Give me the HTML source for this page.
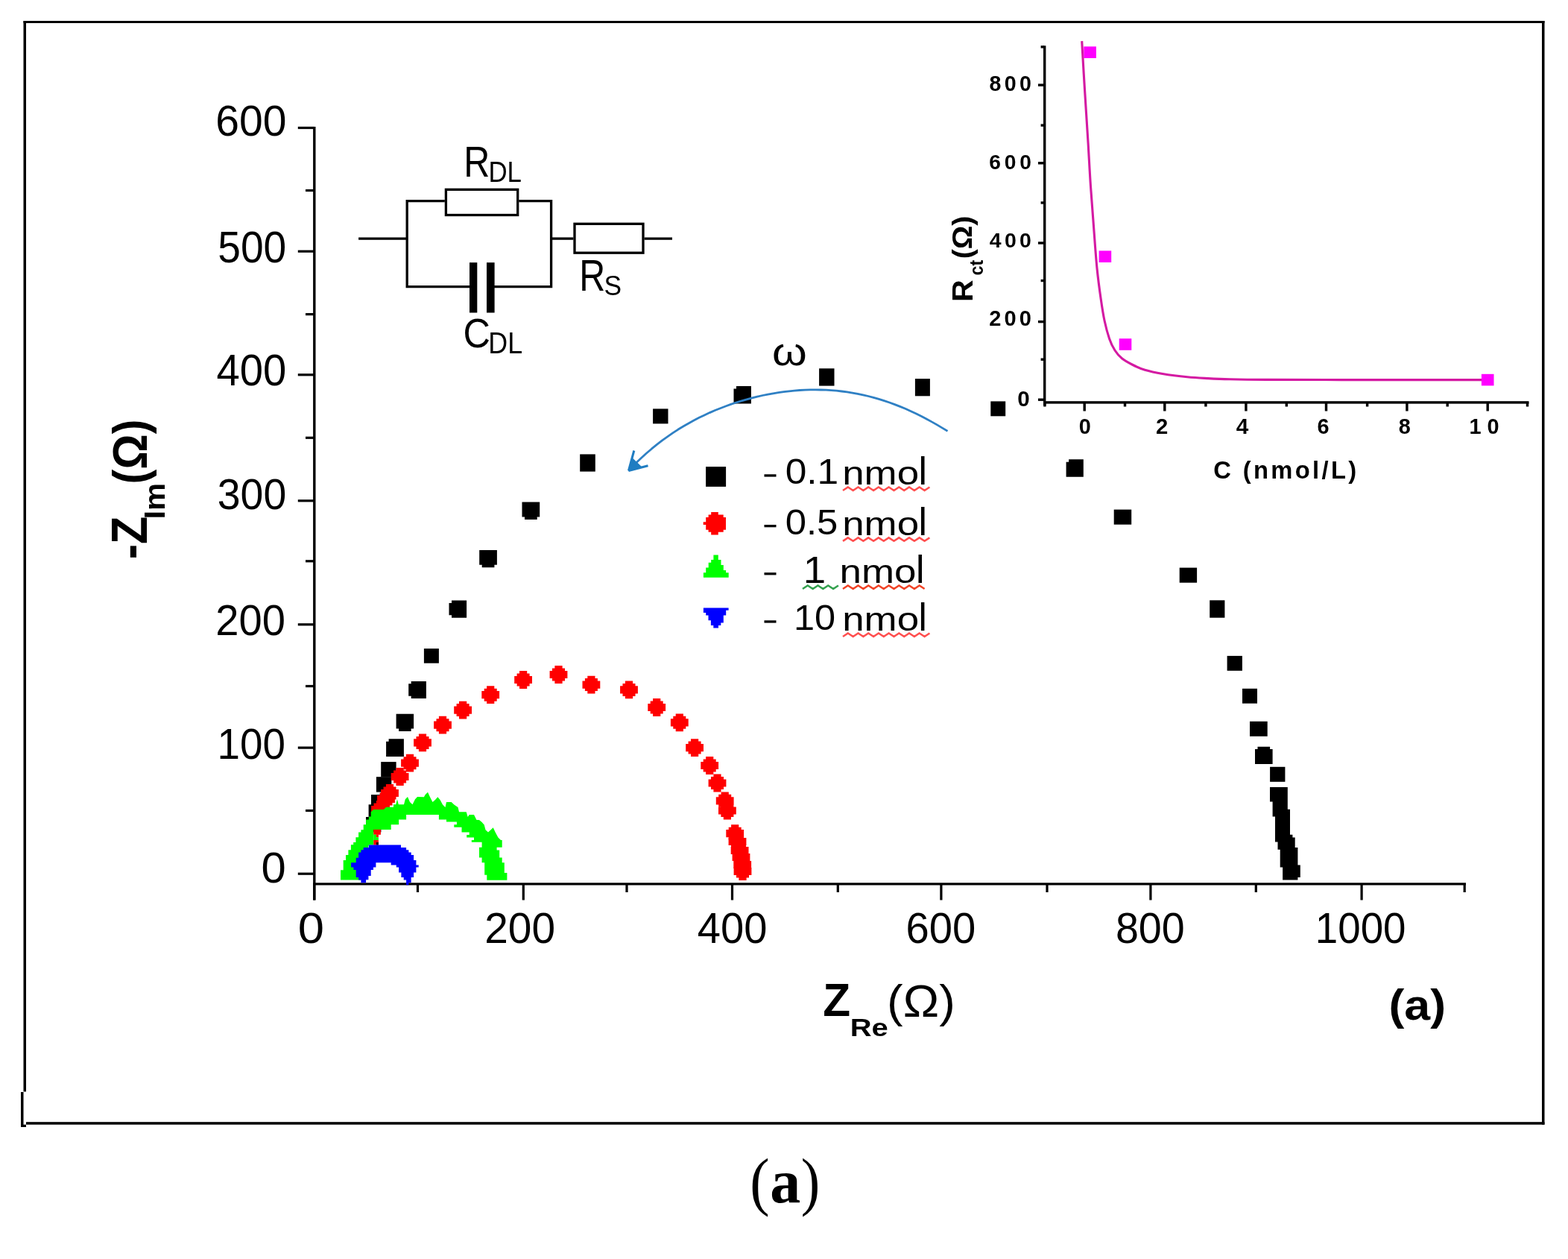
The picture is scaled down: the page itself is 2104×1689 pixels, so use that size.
<!DOCTYPE html>
<html lang="en"><head><meta charset="utf-8"><title>Nyquist plot (a)</title>
<style>
html,body{margin:0;padding:0;background:#fff;}
body{width:2104px;height:1689px;overflow:hidden;}
svg{display:block;}
</style></head><body>
<svg width="2104" height="1689" viewBox="0 0 2104 1689">
<rect x="0" y="0" width="2104" height="1689" fill="#fff"/>
<g id="frame">
<rect x="31.50" y="28.00" width="3.50" height="1436.50" fill="#000"/>
<rect x="31.50" y="28.00" width="2041.00" height="3.00" fill="#000"/>
<rect x="2069.00" y="28.00" width="3.50" height="1480.70" fill="#000"/>
<rect x="35.00" y="1505.20" width="2037.50" height="3.50" fill="#000"/>
<rect x="28.00" y="1465.00" width="3.50" height="47.00" fill="#000"/>
<rect x="28.00" y="1508.70" width="7.00" height="3.30" fill="#000"/>
</g>
<g id="axes">
<rect x="420.10" y="170.00" width="3.40" height="1037.50" fill="#000"/>
<rect x="420.10" y="1184.30" width="1546.90" height="3.20" fill="#000"/>
<rect x="399.80" y="169.90" width="21.90" height="3.20" fill="#000"/>
<rect x="410.00" y="253.90" width="11.70" height="3.20" fill="#000"/>
<rect x="399.80" y="335.60" width="21.90" height="3.20" fill="#000"/>
<rect x="410.00" y="420.00" width="11.70" height="3.20" fill="#000"/>
<rect x="399.80" y="501.20" width="21.90" height="3.20" fill="#000"/>
<rect x="410.00" y="585.70" width="11.70" height="3.20" fill="#000"/>
<rect x="399.80" y="670.20" width="21.90" height="3.20" fill="#000"/>
<rect x="410.00" y="751.20" width="11.70" height="3.20" fill="#000"/>
<rect x="399.80" y="836.20" width="21.90" height="3.20" fill="#000"/>
<rect x="410.00" y="918.90" width="11.70" height="3.20" fill="#000"/>
<rect x="399.80" y="1001.50" width="21.90" height="3.20" fill="#000"/>
<rect x="410.00" y="1085.90" width="11.70" height="3.20" fill="#000"/>
<rect x="399.80" y="1170.60" width="21.90" height="3.20" fill="#000"/>
<rect x="420.10" y="1185.00" width="3.20" height="22.50" fill="#000"/>
<rect x="558.90" y="1185.00" width="3.20" height="12.00" fill="#000"/>
<rect x="700.70" y="1185.00" width="3.20" height="22.50" fill="#000"/>
<rect x="839.40" y="1185.00" width="3.20" height="12.00" fill="#000"/>
<rect x="980.90" y="1185.00" width="3.20" height="22.50" fill="#000"/>
<rect x="1122.70" y="1185.00" width="3.20" height="12.00" fill="#000"/>
<rect x="1261.30" y="1185.00" width="3.20" height="22.50" fill="#000"/>
<rect x="1403.40" y="1185.00" width="3.20" height="12.00" fill="#000"/>
<rect x="1542.30" y="1185.00" width="3.20" height="22.50" fill="#000"/>
<rect x="1683.70" y="1185.00" width="3.20" height="12.00" fill="#000"/>
<rect x="1825.50" y="1185.00" width="3.20" height="22.50" fill="#000"/>
<rect x="1963.60" y="1185.00" width="3.20" height="12.00" fill="#000"/>
</g>
<g id="ticklabels">
<text transform="translate(289.35,182.44) scale(1.0108,1)" font-family='"Liberation Sans", sans-serif' font-size="56.48" fill="#000">600</text>
<text transform="translate(292.30,351.52) scale(0.9449,1)" font-family='"Liberation Sans", sans-serif' font-size="58.31" fill="#000">500</text>
<text transform="translate(290.48,517.32) scale(0.9617,1)" font-family='"Liberation Sans", sans-serif' font-size="58.45" fill="#000">400</text>
<text transform="translate(291.78,683.13) scale(0.9642,1)" font-family='"Liberation Sans", sans-serif' font-size="57.46" fill="#000">300</text>
<text transform="translate(289.29,852.02) scale(0.9685,1)" font-family='"Liberation Sans", sans-serif' font-size="58.03" fill="#000">200</text>
<text transform="translate(291.59,1017.83) scale(0.9535,1)" font-family='"Liberation Sans", sans-serif' font-size="57.46" fill="#000">100</text>
<text transform="translate(350.41,1183.53) scale(1.0430,1)" font-family='"Liberation Sans", sans-serif' font-size="57.32" fill="#000">0</text>
<text transform="translate(399.67,1264.82) scale(1.0941,1)" font-family='"Liberation Sans", sans-serif' font-size="57.89" fill="#000">0</text>
<text transform="translate(650.26,1264.82) scale(0.9818,1)" font-family='"Liberation Sans", sans-serif' font-size="57.89" fill="#000">200</text>
<text transform="translate(935.78,1264.82) scale(0.9700,1)" font-family='"Liberation Sans", sans-serif' font-size="57.89" fill="#000">400</text>
<text transform="translate(1215.49,1264.82) scale(0.9709,1)" font-family='"Liberation Sans", sans-serif' font-size="57.89" fill="#000">600</text>
<text transform="translate(1496.90,1264.82) scale(0.9613,1)" font-family='"Liberation Sans", sans-serif' font-size="57.89" fill="#000">800</text>
<text transform="translate(1764.80,1264.82) scale(0.9450,1)" font-family='"Liberation Sans", sans-serif' font-size="57.89" fill="#000">1000</text>
</g>
<g id="titles">
<text transform="translate(196.80,750.35) rotate(-90) scale(0.9033,1)" font-family='"Liberation Sans", sans-serif' font-weight="bold" font-size="67.68" fill="#000">-Z</text>
<text transform="translate(220.70,696.52) rotate(-90) scale(1.0848,1)" font-family='"Liberation Sans", sans-serif' font-weight="bold" font-size="38.55" fill="#000">Im</text>
<text transform="translate(196.87,649.46) rotate(-90) scale(0.9118,1)" font-family='"Liberation Sans", sans-serif' font-weight="bold" font-size="64.92" fill="#000">(Ω)</text>
<text transform="translate(1104.29,1363.30) scale(0.9466,1)" font-family='"Liberation Sans", sans-serif' font-weight="bold" font-size="63.77" fill="#000">Z</text>
<text transform="translate(1140.70,1390.06) scale(1.1915,1)" font-family='"Liberation Sans", sans-serif' font-weight="bold" font-size="33.57" fill="#000">Re</text>
<text transform="translate(1190.11,1363.96) scale(1.0520,1)" font-family='"Liberation Sans", sans-serif' font-size="61.60" fill="#000">(Ω)</text>
<text transform="translate(1863.47,1368.03) scale(1.0811,1)" font-family='"Liberation Sans", sans-serif' font-weight="bold" font-size="57.97" fill="#000">(a)</text>
<text transform="translate(1006.34,1613.55) scale(0.9230,1)" font-family='"Liberation Serif", serif' font-size="85.82" fill="#000">(</text>
<text transform="translate(1033.34,1613.15) scale(0.9597,1)" font-family='"Liberation Serif", serif' font-weight="bold" font-size="85.42" fill="#000">a</text>
<text transform="translate(1074.70,1613.55) scale(0.8918,1)" font-family='"Liberation Serif", serif' font-size="85.82" fill="#000">)</text>
</g>
<g id="circuit" fill="none" stroke="#000" stroke-width="3.3">
<polyline points="481.1,320.1 546.2,320.1"/>
<polyline points="596.8,269.6 546.2,269.6 546.2,384.6 631,384.6"/>
<polyline points="696.3,269.6 739.6,269.6 739.6,384.6 663,384.6"/>
<polyline points="739.6,320.1 769.4,320.1"/>
<polyline points="864.6,320.1 902,320.1"/>
<rect x="598.4" y="254.3" width="96.3" height="34.2"/>
<rect x="771" y="300.3" width="92" height="38.9"/>
</g>
<rect x="630.00" y="352.20" width="10.30" height="67.30" fill="#000"/>
<rect x="653.00" y="352.20" width="10.60" height="67.30" fill="#000"/>
<text transform="translate(622.21,237.30) scale(0.8337,1)" font-family='"Liberation Sans", sans-serif' font-size="58.26" fill="#000">R</text>
<text transform="translate(655.41,244.20) scale(0.8973,1)" font-family='"Liberation Sans", sans-serif' font-size="38.84" fill="#000">DL</text>
<text transform="translate(777.33,389.60) scale(0.8226,1)" font-family='"Liberation Sans", sans-serif' font-size="58.84" fill="#000">R</text>
<text transform="translate(810.61,395.62) scale(0.9388,1)" font-family='"Liberation Sans", sans-serif' font-size="37.61" fill="#000">S</text>
<text transform="translate(621.48,466.04) scale(0.9035,1)" font-family='"Liberation Sans", sans-serif' font-size="55.77" fill="#000">C</text>
<text transform="translate(655.34,474.00) scale(0.8916,1)" font-family='"Liberation Sans", sans-serif' font-size="40.14" fill="#000">DL</text>
<g id="black">
<polygon points="518.1,994.7 521.6,994.7 521.6,991.3 541.9,991.3 541.9,1014.9 518.1,1014.9" fill="#000"/>
<polygon points="531.6,957.8 555.1,957.8 555.1,977.6 551.6,977.6 551.6,981.0 535.1,981.0 535.1,977.6 531.6,977.6" fill="#000"/>
<polygon points="548.2,917.3 551.7,917.3 551.7,913.9 571.9,913.9 571.9,937.1 551.7,937.1 551.7,933.7 548.2,933.7" fill="#000"/>
<rect x="568.90" y="870.10" width="20.00" height="19.60" fill="#000"/>
<polygon points="602.5,808.9 606.0,808.9 606.0,805.5 626.1,805.5 626.1,828.7 606.0,828.7 606.0,825.3 602.5,825.3" fill="#000"/>
<polygon points="643.2,738.0 666.9,738.0 666.9,757.8 663.4,757.8 663.4,761.2 646.7,761.2 646.7,757.8 643.2,757.8" fill="#000"/>
<polygon points="700.5,673.6 724.2,673.6 724.2,693.6 720.7,693.6 720.7,697.0 704.0,697.0 704.0,693.6 700.5,693.6" fill="#000"/>
<rect x="778.20" y="609.40" width="20.60" height="23.20" fill="#000"/>
<rect x="876.10" y="548.40" width="20.40" height="20.00" fill="#000"/>
<polygon points="984.5,521.4 988.0,521.4 988.0,518.0 1007.9,518.0 1007.9,541.4 984.5,541.4" fill="#000"/>
<rect x="1099.10" y="494.30" width="20.40" height="23.30" fill="#000"/>
<rect x="1227.90" y="508.10" width="20.00" height="23.20" fill="#000"/>
<rect x="1329.30" y="538.40" width="19.90" height="19.90" fill="#000"/>
<polygon points="1430.6,619.7 1434.1,619.7 1434.1,616.3 1453.8,616.3 1453.8,639.7 1430.6,639.7" fill="#000"/>
<rect x="1494.70" y="683.60" width="23.50" height="20.10" fill="#000"/>
<rect x="1582.70" y="761.60" width="23.40" height="20.10" fill="#000"/>
<rect x="1623.20" y="805.30" width="20.20" height="23.40" fill="#000"/>
<rect x="1646.60" y="879.90" width="20.30" height="19.90" fill="#000"/>
<rect x="1667.00" y="923.80" width="20.00" height="19.90" fill="#000"/>
<rect x="1677.00" y="967.80" width="23.70" height="20.00" fill="#000"/>
<polygon points="1684.0,1005.1 1687.5,1005.1 1687.5,1001.7 1704.1,1001.7 1704.1,1005.1 1707.6,1005.1 1707.6,1025.1 1684.0,1025.1" fill="#000"/>
<rect x="1704.10" y="1028.80" width="20.30" height="20.00" fill="#000"/>
<rect x="511.20" y="1022.10" width="20.40" height="20.40" fill="#000"/>
<rect x="504.90" y="1042.20" width="20.40" height="20.40" fill="#000"/>
<rect x="498.00" y="1066.10" width="20.40" height="20.40" fill="#000"/>
<rect x="494.60" y="1079.30" width="20.40" height="20.40" fill="#000"/>
<rect x="491.00" y="1096.00" width="20.40" height="20.40" fill="#000"/>
<polygon points="1704.0,1055.9 1704.0,1075.4 1707.6,1075.4 1707.6,1095.4 1711.0,1095.4 1711.0,1129.5 1714.5,1129.5 1714.5,1139.8 1717.7,1139.8 1717.7,1163.5 1721.1,1163.5 1721.1,1180.5 1741.4,1180.5 1741.4,1177.0 1744.8,1177.0 1744.8,1160.5 1741.4,1160.5 1741.4,1136.9 1737.7,1136.9 1737.7,1123.5 1734.4,1123.5 1734.4,1119.8 1731.0,1119.8 1731.0,1085.8 1727.8,1085.8 1727.8,1055.9" fill="#000"/>
</g>
<g id="red" fill="#ff0000">
<polygon points="561.9,984.5 572.1,984.5 572.1,987.9 575.5,987.9 575.5,991.3 578.9,991.3 578.9,1001.5 575.5,1001.5 575.5,1004.9 572.1,1004.9 572.1,1008.3 561.9,1008.3 561.9,1004.9 558.5,1004.9 558.5,1001.5 555.1,1001.5 555.1,991.3 558.5,991.3 558.5,987.9 561.9,987.9"/>
<polygon points="588.9,960.8 599.1,960.8 599.1,964.2 602.5,964.2 602.5,967.6 605.9,967.6 605.9,977.8 602.5,977.8 602.5,981.2 599.1,981.2 599.1,984.6 588.9,984.6 588.9,981.2 585.5,981.2 585.5,977.8 582.1,977.8 582.1,967.6 585.5,967.6 585.5,964.2 588.9,964.2"/>
<polygon points="616.0,940.7 626.2,940.7 626.2,944.1 629.6,944.1 629.6,947.5 633.0,947.5 633.0,957.7 629.6,957.7 629.6,961.1 626.2,961.1 626.2,964.5 616.0,964.5 616.0,961.1 612.6,961.1 612.6,957.7 609.2,957.7 609.2,947.5 612.6,947.5 612.6,944.1 616.0,944.1"/>
<polygon points="653.1,920.3 663.3,920.3 663.3,923.7 666.7,923.7 666.7,927.1 670.1,927.1 670.1,937.3 666.7,937.3 666.7,940.7 663.3,940.7 663.3,944.1 653.1,944.1 653.1,940.7 649.7,940.7 649.7,937.3 646.3,937.3 646.3,927.1 649.7,927.1 649.7,923.7 653.1,923.7"/>
<polygon points="697.0,900.1 707.2,900.1 707.2,903.5 710.6,903.5 710.6,906.9 714.0,906.9 714.0,917.1 710.6,917.1 710.6,920.5 707.2,920.5 707.2,923.9 697.0,923.9 697.0,920.5 693.6,920.5 693.6,917.1 690.2,917.1 690.2,906.9 693.6,906.9 693.6,903.5 697.0,903.5"/>
<polygon points="744.4,893.1 754.6,893.1 754.6,896.5 758.0,896.5 758.0,899.9 761.4,899.9 761.4,910.1 758.0,910.1 758.0,913.5 754.6,913.5 754.6,916.9 744.4,916.9 744.4,913.5 741.0,913.5 741.0,910.1 737.6,910.1 737.6,899.9 741.0,899.9 741.0,896.5 744.4,896.5"/>
<polygon points="788.3,906.7 798.5,906.7 798.5,910.1 801.9,910.1 801.9,913.5 805.3,913.5 805.3,923.7 801.9,923.7 801.9,927.1 798.5,927.1 798.5,930.5 788.3,930.5 788.3,927.1 784.9,927.1 784.9,923.7 781.5,923.7 781.5,913.5 784.9,913.5 784.9,910.1 788.3,910.1"/>
<polygon points="838.9,913.5 849.1,913.5 849.1,916.9 852.5,916.9 852.5,920.3 855.9,920.3 855.9,930.5 852.5,930.5 852.5,933.9 849.1,933.9 849.1,937.3 838.9,937.3 838.9,933.9 835.5,933.9 835.5,930.5 832.1,930.5 832.1,920.3 835.5,920.3 835.5,916.9 838.9,916.9"/>
<polygon points="876.1,937.1 886.3,937.1 886.3,940.5 889.7,940.5 889.7,943.9 893.1,943.9 893.1,954.1 889.7,954.1 889.7,957.5 886.3,957.5 886.3,960.9 876.1,960.9 876.1,957.5 872.7,957.5 872.7,954.1 869.3,954.1 869.3,943.9 872.7,943.9 872.7,940.5 876.1,940.5"/>
<polygon points="906.7,957.4 916.9,957.4 916.9,960.8 920.3,960.8 920.3,964.2 923.7,964.2 923.7,974.4 920.3,974.4 920.3,977.8 916.9,977.8 916.9,981.2 906.7,981.2 906.7,977.8 903.3,977.8 903.3,974.4 899.9,974.4 899.9,964.2 903.3,964.2 903.3,960.8 906.7,960.8"/>
<polygon points="927.0,991.2 937.2,991.2 937.2,994.6 940.6,994.6 940.6,998.0 944.0,998.0 944.0,1008.2 940.6,1008.2 940.6,1011.6 937.2,1011.6 937.2,1015.0 927.0,1015.0 927.0,1011.6 923.6,1011.6 923.6,1008.2 920.2,1008.2 920.2,998.0 923.6,998.0 923.6,994.6 927.0,994.6"/>
<polygon points="947.1,1015.1 957.3,1015.1 957.3,1018.5 960.7,1018.5 960.7,1021.9 964.1,1021.9 964.1,1032.1 960.7,1032.1 960.7,1035.5 957.3,1035.5 957.3,1038.9 947.1,1038.9 947.1,1035.5 943.7,1035.5 943.7,1032.1 940.3,1032.1 940.3,1021.9 943.7,1021.9 943.7,1018.5 947.1,1018.5"/>
<polygon points="957.4,1038.6 967.6,1038.6 967.6,1042.0 971.0,1042.0 971.0,1045.4 974.4,1045.4 974.4,1055.6 971.0,1055.6 971.0,1059.0 967.6,1059.0 967.6,1062.4 957.4,1062.4 957.4,1059.0 954.0,1059.0 954.0,1055.6 950.6,1055.6 950.6,1045.4 954.0,1045.4 954.0,1042.0 957.4,1042.0"/>
<polygon points="967.6,1062.4 977.8,1062.4 977.8,1065.8 981.2,1065.8 981.2,1069.2 984.6,1069.2 984.6,1079.4 981.2,1079.4 981.2,1082.8 977.8,1082.8 977.8,1086.2 967.6,1086.2 967.6,1082.8 964.2,1082.8 964.2,1079.4 960.8,1079.4 960.8,1069.2 964.2,1069.2 964.2,1065.8 967.6,1065.8"/>
<polygon points="970.8,1075.6 981.0,1075.6 981.0,1079.0 984.4,1079.0 984.4,1082.4 987.8,1082.4 987.8,1092.6 984.4,1092.6 984.4,1096.0 981.0,1096.0 981.0,1099.4 970.8,1099.4 970.8,1096.0 967.4,1096.0 967.4,1092.6 964.0,1092.6 964.0,1082.4 967.4,1082.4 967.4,1079.0 970.8,1079.0"/>
<polygon points="981.1,1106.3 991.3,1106.3 991.3,1109.7 994.7,1109.7 994.7,1113.1 998.1,1113.1 998.1,1123.3 994.7,1123.3 994.7,1126.7 991.3,1126.7 991.3,1130.1 981.1,1130.1 981.1,1126.7 977.7,1126.7 977.7,1123.3 974.3,1123.3 974.3,1113.1 977.7,1113.1 977.7,1109.7 981.1,1109.7"/>
<polygon points="984.4,1117.1 994.6,1117.1 994.6,1120.5 998.0,1120.5 998.0,1123.9 1001.4,1123.9 1001.4,1134.1 998.0,1134.1 998.0,1137.5 994.6,1137.5 994.6,1140.9 984.4,1140.9 984.4,1137.5 981.0,1137.5 981.0,1134.1 977.6,1134.1 977.6,1123.9 981.0,1123.9 981.0,1120.5 984.4,1120.5"/>
<polygon points="987.5,1129.1 997.7,1129.1 997.7,1132.5 1001.1,1132.5 1001.1,1135.9 1004.5,1135.9 1004.5,1146.1 1001.1,1146.1 1001.1,1149.5 997.7,1149.5 997.7,1152.9 987.5,1152.9 987.5,1149.5 984.1,1149.5 984.1,1146.1 980.7,1146.1 980.7,1135.9 984.1,1135.9 984.1,1132.5 987.5,1132.5"/>
<polygon points="989.4,1138.1 999.6,1138.1 999.6,1141.5 1003.0,1141.5 1003.0,1144.9 1006.4,1144.9 1006.4,1155.1 1003.0,1155.1 1003.0,1158.5 999.6,1158.5 999.6,1161.9 989.4,1161.9 989.4,1158.5 986.0,1158.5 986.0,1155.1 982.6,1155.1 982.6,1144.9 986.0,1144.9 986.0,1141.5 989.4,1141.5"/>
<polygon points="991.1,1148.1 1001.3,1148.1 1001.3,1151.5 1004.7,1151.5 1004.7,1154.9 1008.1,1154.9 1008.1,1165.1 1004.7,1165.1 1004.7,1168.5 1001.3,1168.5 1001.3,1171.9 991.1,1171.9 991.1,1168.5 987.7,1168.5 987.7,1165.1 984.3,1165.1 984.3,1154.9 987.7,1154.9 987.7,1151.5 991.1,1151.5"/>
<polygon points="991.4,1157.1 1001.6,1157.1 1001.6,1160.5 1005.0,1160.5 1005.0,1163.9 1008.4,1163.9 1008.4,1174.1 1005.0,1174.1 1005.0,1177.5 1001.6,1177.5 1001.6,1180.9 991.4,1180.9 991.4,1177.5 988.0,1177.5 988.0,1174.1 984.6,1174.1 984.6,1163.9 988.0,1163.9 988.0,1160.5 991.4,1160.5"/>
<polygon points="544.9,1011.8 555.1,1011.8 555.1,1015.2 558.5,1015.2 558.5,1018.6 561.9,1018.6 561.9,1028.8 558.5,1028.8 558.5,1032.2 555.1,1032.2 555.1,1035.6 544.9,1035.6 544.9,1032.2 541.5,1032.2 541.5,1028.8 538.1,1028.8 538.1,1018.6 541.5,1018.6 541.5,1015.2 544.9,1015.2"/>
<polygon points="531.5,1030.1 541.7,1030.1 541.7,1033.5 545.1,1033.5 545.1,1036.9 548.5,1036.9 548.5,1047.1 545.1,1047.1 545.1,1050.5 541.7,1050.5 541.7,1053.9 531.5,1053.9 531.5,1050.5 528.1,1050.5 528.1,1047.1 524.7,1047.1 524.7,1036.9 528.1,1036.9 528.1,1033.5 531.5,1033.5"/>
<polygon points="517.9,1052.1 528.1,1052.1 528.1,1055.5 531.5,1055.5 531.5,1058.9 534.9,1058.9 534.9,1069.1 531.5,1069.1 531.5,1072.5 528.1,1072.5 528.1,1075.9 517.9,1075.9 517.9,1072.5 514.5,1072.5 514.5,1069.1 511.1,1069.1 511.1,1058.9 514.5,1058.9 514.5,1055.5 517.9,1055.5"/>
<polygon points="512.9,1060.1 523.1,1060.1 523.1,1063.5 526.5,1063.5 526.5,1066.9 529.9,1066.9 529.9,1077.1 526.5,1077.1 526.5,1080.5 523.1,1080.5 523.1,1083.9 512.9,1083.9 512.9,1080.5 509.5,1080.5 509.5,1077.1 506.1,1077.1 506.1,1066.9 509.5,1066.9 509.5,1063.5 512.9,1063.5"/>
<polygon points="504.9,1074.1 515.1,1074.1 515.1,1077.5 518.5,1077.5 518.5,1080.9 521.9,1080.9 521.9,1091.1 518.5,1091.1 518.5,1094.5 515.1,1094.5 515.1,1097.9 504.9,1097.9 504.9,1094.5 501.5,1094.5 501.5,1091.1 498.1,1091.1 498.1,1080.9 501.5,1080.9 501.5,1077.5 504.9,1077.5"/>
</g>
<polygon points="457.0,1180.6 457.0,1167.3 460.7,1167.3 460.7,1154.0 464.0,1154.0 464.0,1147.0 467.4,1147.0 467.4,1140.3 470.9,1140.3 470.9,1133.3 474.2,1133.3 474.2,1130.0 477.4,1130.0 477.4,1123.3 481.1,1123.3 481.1,1116.6 484.4,1116.6 484.4,1113.3 487.7,1113.3 487.7,1106.3 491.1,1106.3 491.1,1099.6 494.8,1099.6 494.8,1095.5 497.7,1095.5 497.7,1089.2 501.3,1086.0 515.0,1086.0 518.2,1082.7 528.0,1082.7 528.0,1079.2 531.2,1079.2 533.0,1072.3 534.8,1079.2 542.0,1079.2 543.8,1072.3 547.0,1069.0 550.0,1075.9 553.5,1079.2 557.0,1072.3 560.0,1069.0 568.9,1069.3 570.5,1066.2 574.0,1062.7 577.0,1069.3 580.5,1076.0 584.0,1072.9 587.3,1069.3 590.5,1072.9 594.0,1079.5 597.5,1083.1 599.0,1076.0 605.7,1076.0 609.3,1079.5 614.5,1083.1 616.0,1089.3 625.7,1089.3 627.7,1096.0 629.7,1093.1 636.0,1093.1 639.5,1100.0 643.0,1100.0 646.6,1103.1 649.7,1106.6 651.5,1113.3 655.0,1116.4 658.6,1113.3 661.7,1110.2 664.8,1116.8 668.4,1123.5 672.0,1127.0 673.7,1127.0 673.7,1136.8 666.6,1136.8 666.6,1140.4 670.2,1140.4 670.2,1150.6 673.7,1150.6 673.7,1157.3 676.8,1157.3 676.8,1171.0 680.4,1171.0 680.4,1180.8 653.3,1180.8 653.3,1173.7 650.2,1173.7 650.2,1157.3 646.6,1157.3 646.6,1150.6 643.0,1150.6 643.0,1136.8 646.6,1136.8 646.6,1129.7 632.8,1129.7 632.8,1127.0 636.0,1127.0 636.0,1123.5 626.2,1123.5 626.2,1120.0 629.7,1120.0 629.7,1116.4 619.5,1116.4 619.5,1109.7 609.3,1109.7 609.3,1106.2 612.9,1106.2 612.9,1102.6 599.0,1102.6 599.0,1099.5 588.9,1099.5 588.9,1092.9 545.1,1092.9 545.1,1099.6 535.1,1099.6 535.1,1106.3 524.7,1106.3 524.7,1112.9 501.3,1112.9 501.3,1133.6 494.8,1133.6 484.4,1180.6" fill="#00ff00"/>
<rect x="501.30" y="1112.90" width="9.60" height="6.90" fill="#ff0000"/>
<rect x="504.90" y="1119.60" width="3.00" height="3.60" fill="#ff0000"/>
<rect x="501.30" y="1119.60" width="3.60" height="7.60" fill="#00ff00"/>
<rect x="504.90" y="1123.20" width="3.00" height="4.00" fill="#00ff00"/>
<rect x="501.30" y="1127.00" width="6.60" height="6.60" fill="#ff0000"/>
<rect x="504.90" y="1130.00" width="3.00" height="3.60" fill="#000"/>
<polygon points="494.8,1133.6 538.0,1133.6 538.0,1137.0 545.1,1137.0 545.1,1140.3 548.4,1140.3 548.4,1143.6 551.7,1143.6 551.7,1147.0 555.1,1147.0 555.1,1154.0 558.4,1154.0 558.4,1160.6 561.7,1160.6 561.7,1163.6 558.4,1163.6 558.4,1170.6 555.1,1170.6 555.1,1176.9 551.7,1176.9 551.7,1184.0 548.4,1184.0 548.4,1187.3 545.1,1187.3 545.1,1180.6 541.7,1180.6 541.7,1176.9 538.4,1176.9 538.4,1170.6 535.1,1170.6 535.1,1163.6 531.8,1163.6 531.8,1160.6 524.7,1160.6 524.7,1157.3 504.4,1157.3 504.4,1163.6 501.0,1163.6 501.0,1167.0 497.7,1167.0 497.7,1175.1 494.4,1175.1 494.4,1180.3 491.1,1180.3 491.1,1184.3 484.4,1184.3 484.4,1180.6 481.1,1180.6 481.1,1176.9 477.7,1176.9 477.7,1167.0 474.4,1167.0 474.4,1163.6 471.1,1163.6 471.1,1157.3 477.7,1157.3 477.7,1150.7 481.1,1150.7 481.1,1143.6 484.4,1143.6 484.4,1140.3 487.7,1140.3 487.7,1137.0 494.8,1137.0" fill="#0000ff"/>
<text transform="translate(1036.10,489.78) scale(1.1458,1)" font-family='"Liberation Sans", sans-serif' font-size="52.36" fill="#000">ω</text>
<path d="M1271.5,578.4 L1264.4,574.1 L1257.3,569.9 L1250.2,565.9 L1243.1,562.0 L1236.0,558.3 L1228.9,554.8 L1221.8,551.5 L1214.8,548.3 L1207.7,545.4 L1200.6,542.6 L1193.5,540.0 L1186.4,537.6 L1179.3,535.4 L1172.2,533.3 L1165.1,531.5 L1158.0,529.8 L1150.9,528.4 L1143.8,527.1 L1136.7,525.9 L1129.6,525.0 L1122.5,524.2 L1115.4,523.6 L1108.4,523.2 L1101.3,523.0 L1094.2,522.9 L1087.1,522.9 L1080.0,523.2 L1072.9,523.5 L1065.8,524.1 L1058.7,524.8 L1051.6,525.6 L1044.5,526.6 L1037.4,527.8 L1030.3,529.1 L1023.2,530.5 L1016.1,532.1 L1009.1,533.9 L1002.0,535.8 L994.9,537.8 L987.8,540.0 L980.7,542.4 L973.6,545.0 L966.5,547.7 L959.4,550.5 L952.3,553.6 L945.2,556.9 L938.1,560.3 L931.0,564.0 L923.9,567.9 L916.8,572.0 L909.7,576.3 L902.7,580.9 L895.6,585.8 L888.5,590.9 L881.4,596.4 L874.3,602.2 L867.2,608.3 L860.1,614.8 L853.0,621.6" fill="none" stroke="#2f80c4" stroke-width="2.8" stroke-linejoin="round"/>
<g fill="#1f7dc2" stroke="#1f7dc2" stroke-width="3" stroke-linecap="butt">
<line x1="843.5" y1="631.5" x2="850.8" y2="604.5"/>
<line x1="843.5" y1="631.5" x2="869.5" y2="624.8"/>
<polygon points="843,632.3 847.8,613.5 862,627" stroke="none"/>
</g>
<g id="legend">
<rect x="947.10" y="626.10" width="27.00" height="26.80" fill="#000"/>
<polygon points="954.2,687.0 963.8,687.0 963.8,690.4 970.7,690.4 970.7,694.0 974.0,694.0 974.0,710.7 970.7,710.7 970.7,713.8 963.8,713.8 963.8,717.4 954.2,717.4 954.2,713.8 950.6,713.8 950.6,710.7 947.2,710.7 947.2,703.9 943.7,703.9 943.7,700.3 947.2,700.3 947.2,694.0 950.6,694.0 950.6,690.4 954.2,690.4" fill="#ff0000"/>
<polygon points="957.4,744.5 963.8,744.5 963.8,751.1 967.5,751.1 967.5,758.0 970.8,758.0 970.8,764.9 974.1,764.9 974.1,768.2 977.7,768.2 977.7,774.8 943.9,774.8 943.9,768.2 947.2,768.2 947.2,761.6 950.7,761.6 950.7,754.8 954.2,754.8 954.2,751.1 957.4,751.1" fill="#00ff00"/>
<polygon points="943.9,815.6 977.6,815.6 977.6,818.8 974.2,818.8 974.2,825.5 970.8,825.5 970.8,835.6 967.3,835.6 967.3,839.0 964.0,839.0 964.0,842.6 957.3,842.6 957.3,839.0 953.9,839.0 953.9,832.3 950.5,832.3 950.5,825.5 947.2,825.5 947.2,822.1 943.9,822.1" fill="#0000ff"/>
<rect x="1025.50" y="636.30" width="16.00" height="3.30" fill="#000"/>
<text transform="translate(1053.64,649.42) scale(1.0785,1)" font-family='"Liberation Sans", sans-serif' font-size="47.75" fill="#000">0.1</text>
<text transform="translate(1130.16,649.95) scale(1.1740,1)" font-family='"Liberation Sans", sans-serif' font-size="45.09" fill="#000">nmo</text>
<text transform="translate(1232.55,649.90)" font-family='"Liberation Sans", sans-serif' font-size="51.59" fill="#000">l</text>
<rect x="1025.50" y="704.00" width="16.00" height="3.30" fill="#000"/>
<text transform="translate(1053.67,717.12) scale(1.0679,1)" font-family='"Liberation Sans", sans-serif' font-size="47.61" fill="#000">0.5</text>
<text transform="translate(1130.16,717.65) scale(1.1740,1)" font-family='"Liberation Sans", sans-serif' font-size="45.09" fill="#000">nmo</text>
<text transform="translate(1232.55,717.60)" font-family='"Liberation Sans", sans-serif' font-size="51.59" fill="#000">l</text>
<rect x="1025.50" y="768.10" width="16.00" height="3.30" fill="#000"/>
<text transform="translate(1077.80,781.70) scale(1.1136,1)" font-family='"Liberation Sans", sans-serif' font-size="49.13" fill="#000">1</text>
<text transform="translate(1126.56,781.75) scale(1.1740,1)" font-family='"Liberation Sans", sans-serif' font-size="45.09" fill="#000">nmo</text>
<text transform="translate(1228.95,781.70)" font-family='"Liberation Sans", sans-serif' font-size="51.59" fill="#000">l</text>
<rect x="1025.50" y="832.30" width="16.00" height="3.30" fill="#000"/>
<text transform="translate(1065.01,845.42) scale(1.0577,1)" font-family='"Liberation Sans", sans-serif' font-size="47.75" fill="#000">10</text>
<text transform="translate(1130.16,845.95) scale(1.1740,1)" font-family='"Liberation Sans", sans-serif' font-size="45.09" fill="#000">nmo</text>
<text transform="translate(1232.59,845.90)" font-family='"Liberation Sans", sans-serif' font-size="50.90" fill="#000">l</text>
<polyline points="1131.0,658.0 1137.8,653.5 1144.7,658.0 1151.5,653.5 1158.4,658.0 1165.2,653.5 1172.1,658.0 1178.9,653.5 1185.8,658.0 1192.6,653.5 1199.5,658.0 1206.3,653.5 1213.2,658.0 1220.0,653.5 1226.9,658.0 1233.7,653.5 1240.6,658.0 1247.4,653.5" fill="none" stroke="#ff3030" stroke-width="2.6" stroke-opacity="0.85"/>
<polyline points="1131.0,725.8 1137.8,721.3 1144.7,725.8 1151.5,721.3 1158.4,725.8 1165.2,721.3 1172.1,725.8 1178.9,721.3 1185.8,725.8 1192.6,721.3 1199.5,725.8 1206.3,721.3 1213.2,725.8 1220.0,721.3 1226.9,725.8 1233.7,721.3 1240.6,725.8 1247.4,721.3" fill="none" stroke="#ff3030" stroke-width="2.6" stroke-opacity="0.85"/>
<polyline points="1077.0,790.0 1083.8,785.5 1090.7,790.0 1097.5,785.5 1104.4,790.0 1111.2,785.5 1118.1,790.0 1124.9,785.5" fill="none" stroke="#109030" stroke-width="2.6" stroke-opacity="0.85"/>
<polyline points="1131.0,790.0 1137.8,785.5 1144.7,790.0 1151.5,785.5 1158.4,790.0 1165.2,785.5 1172.1,790.0 1178.9,785.5 1185.8,790.0 1192.6,785.5 1199.5,790.0 1206.3,785.5 1213.2,790.0 1220.0,785.5 1226.9,790.0 1233.7,785.5 1240.6,790.0" fill="none" stroke="#ee2200" stroke-width="2.6" stroke-opacity="0.85"/>
<polyline points="1131.0,854.0 1137.8,849.5 1144.7,854.0 1151.5,849.5 1158.4,854.0 1165.2,849.5 1172.1,854.0 1178.9,849.5 1185.8,854.0 1192.6,849.5 1199.5,854.0 1206.3,849.5 1213.2,854.0 1220.0,849.5 1226.9,854.0 1233.7,849.5 1240.6,854.0 1247.4,849.5" fill="none" stroke="#ff3030" stroke-width="2.6" stroke-opacity="0.85"/>
</g>
<g id="inset">
<rect x="1400.00" y="61.30" width="3.40" height="482.70" fill="#000"/>
<rect x="1400.00" y="538.20" width="651.50" height="3.40" fill="#000"/>
<rect x="1396.60" y="61.20" width="4.40" height="3.40" fill="#000"/>
<rect x="1393.00" y="112.40" width="8.00" height="3.40" fill="#000"/>
<rect x="1396.60" y="166.40" width="4.40" height="3.40" fill="#000"/>
<rect x="1393.00" y="217.10" width="8.00" height="3.40" fill="#000"/>
<rect x="1396.60" y="270.30" width="4.40" height="3.40" fill="#000"/>
<rect x="1393.00" y="324.30" width="8.00" height="3.40" fill="#000"/>
<rect x="1396.60" y="374.80" width="4.40" height="3.40" fill="#000"/>
<rect x="1393.00" y="429.90" width="8.00" height="3.40" fill="#000"/>
<rect x="1396.60" y="480.50" width="4.40" height="3.40" fill="#000"/>
<rect x="1393.00" y="534.50" width="8.00" height="3.40" fill="#000"/>
<rect x="1400.20" y="540.00" width="3.40" height="5.50" fill="#000"/>
<rect x="1453.50" y="540.00" width="3.40" height="11.50" fill="#000"/>
<rect x="1507.80" y="540.00" width="3.40" height="5.50" fill="#000"/>
<rect x="1561.10" y="540.00" width="3.40" height="11.50" fill="#000"/>
<rect x="1616.20" y="540.00" width="3.40" height="5.50" fill="#000"/>
<rect x="1670.20" y="540.00" width="3.40" height="11.50" fill="#000"/>
<rect x="1724.60" y="540.00" width="3.40" height="5.50" fill="#000"/>
<rect x="1777.80" y="540.00" width="3.40" height="11.50" fill="#000"/>
<rect x="1832.90" y="540.00" width="3.40" height="5.50" fill="#000"/>
<rect x="1886.20" y="540.00" width="3.40" height="11.50" fill="#000"/>
<rect x="1940.50" y="540.00" width="3.40" height="5.50" fill="#000"/>
<rect x="1994.50" y="540.00" width="3.40" height="11.50" fill="#000"/>
<rect x="2047.80" y="540.00" width="3.40" height="5.50" fill="#000"/>
<text transform="translate(1327.44,121.71)" font-family='"Liberation Sans", sans-serif' font-weight="bold" font-size="28.59" fill="#000" letter-spacing="4.35">800</text>
<text transform="translate(1327.31,226.62)" font-family='"Liberation Sans", sans-serif' font-weight="bold" font-size="28.17" fill="#000" letter-spacing="4.76">600</text>
<text transform="translate(1327.87,331.72)" font-family='"Liberation Sans", sans-serif' font-weight="bold" font-size="28.45" fill="#000" letter-spacing="4.25">400</text>
<text transform="translate(1327.28,436.71)" font-family='"Liberation Sans", sans-serif' font-weight="bold" font-size="29.01" fill="#000" letter-spacing="4.08">200</text>
<text transform="translate(1365.34,544.70)" font-family='"Liberation Sans", sans-serif' font-weight="bold" font-size="29.58" fill="#000" letter-spacing="0.00">0</text>
<text transform="translate(1447.64,581.61)" font-family='"Liberation Sans", sans-serif' font-weight="bold" font-size="28.87" fill="#000" letter-spacing="0.00">0</text>
<text transform="translate(1551.00,581.90)" font-family='"Liberation Sans", sans-serif' font-weight="bold" font-size="29.29" fill="#000" letter-spacing="0.00">2</text>
<text transform="translate(1658.71,581.90)" font-family='"Liberation Sans", sans-serif' font-weight="bold" font-size="29.71" fill="#000" letter-spacing="0.00">4</text>
<text transform="translate(1767.44,581.61)" font-family='"Liberation Sans", sans-serif' font-weight="bold" font-size="28.87" fill="#000" letter-spacing="0.00">6</text>
<text transform="translate(1876.84,581.61)" font-family='"Liberation Sans", sans-serif' font-weight="bold" font-size="28.87" fill="#000" letter-spacing="0.00">8</text>
<text transform="translate(1971.47,581.61)" font-family='"Liberation Sans", sans-serif' font-weight="bold" font-size="28.87" fill="#000" letter-spacing="7.94">10</text>
<text transform="translate(1628.19,642.43)" font-family='"Liberation Sans", sans-serif' font-weight="bold" font-size="32.73" fill="#000" letter-spacing="3.36">C (nmol/L)</text>
<text transform="translate(1305.00,404.97) rotate(-90) scale(1.0543,1)" font-family='"Liberation Sans", sans-serif' font-weight="bold" font-size="38.99" fill="#000">R</text>
<text transform="translate(1318.55,369.42) rotate(-90) scale(0.9149,1)" font-family='"Liberation Sans", sans-serif' font-weight="bold" font-size="25.26" fill="#000">ct</text>
<text transform="translate(1304.36,347.37) rotate(-90) scale(1.0819,1)" font-family='"Liberation Sans", sans-serif' font-weight="bold" font-size="36.36" fill="#000">(Ω)</text>
<path d="M1451.7,55.2 C1452.3,66.0 1454.1,97.2 1455.5,120.0 C1456.9,142.8 1458.8,170.4 1460.1,192.1 C1461.4,213.8 1462.2,231.0 1463.5,250.0 C1464.8,269.0 1466.3,287.9 1467.7,306.2 C1469.1,324.5 1470.4,344.2 1472.0,360.0 C1473.6,375.8 1475.5,389.5 1477.2,401.2 C1478.9,412.9 1480.1,421.1 1482.0,430.0 C1483.9,438.9 1486.3,447.7 1488.6,454.4 C1490.9,461.1 1493.2,465.6 1496.0,470.0 C1498.8,474.4 1501.7,477.8 1505.7,481.0 C1509.7,484.2 1514.9,486.9 1520.0,489.5 C1525.1,492.1 1529.5,494.3 1536.2,496.3 C1542.9,498.3 1550.5,499.9 1560.0,501.5 C1569.5,503.1 1583.2,504.8 1593.2,505.8 C1603.2,506.8 1610.5,507.1 1620.0,507.6 C1629.5,508.1 1636.9,508.5 1650.2,508.8 C1663.5,509.1 1675.0,509.3 1700.0,509.4 C1725.0,509.5 1749.4,509.6 1800.0,509.6 C1850.6,509.6 1969.8,509.6 2003.8,509.6" fill="none" stroke="#d41aa2" stroke-width="3.1"/>
<rect x="1454.30" y="62.40" width="16.60" height="15.60" fill="#ff00ff"/>
<rect x="1474.60" y="336.40" width="16.60" height="15.60" fill="#ff00ff"/>
<rect x="1501.70" y="454.20" width="16.60" height="15.60" fill="#ff00ff"/>
<rect x="1987.90" y="501.80" width="16.60" height="15.60" fill="#ff00ff"/>
</g>
</svg>
</body></html>
